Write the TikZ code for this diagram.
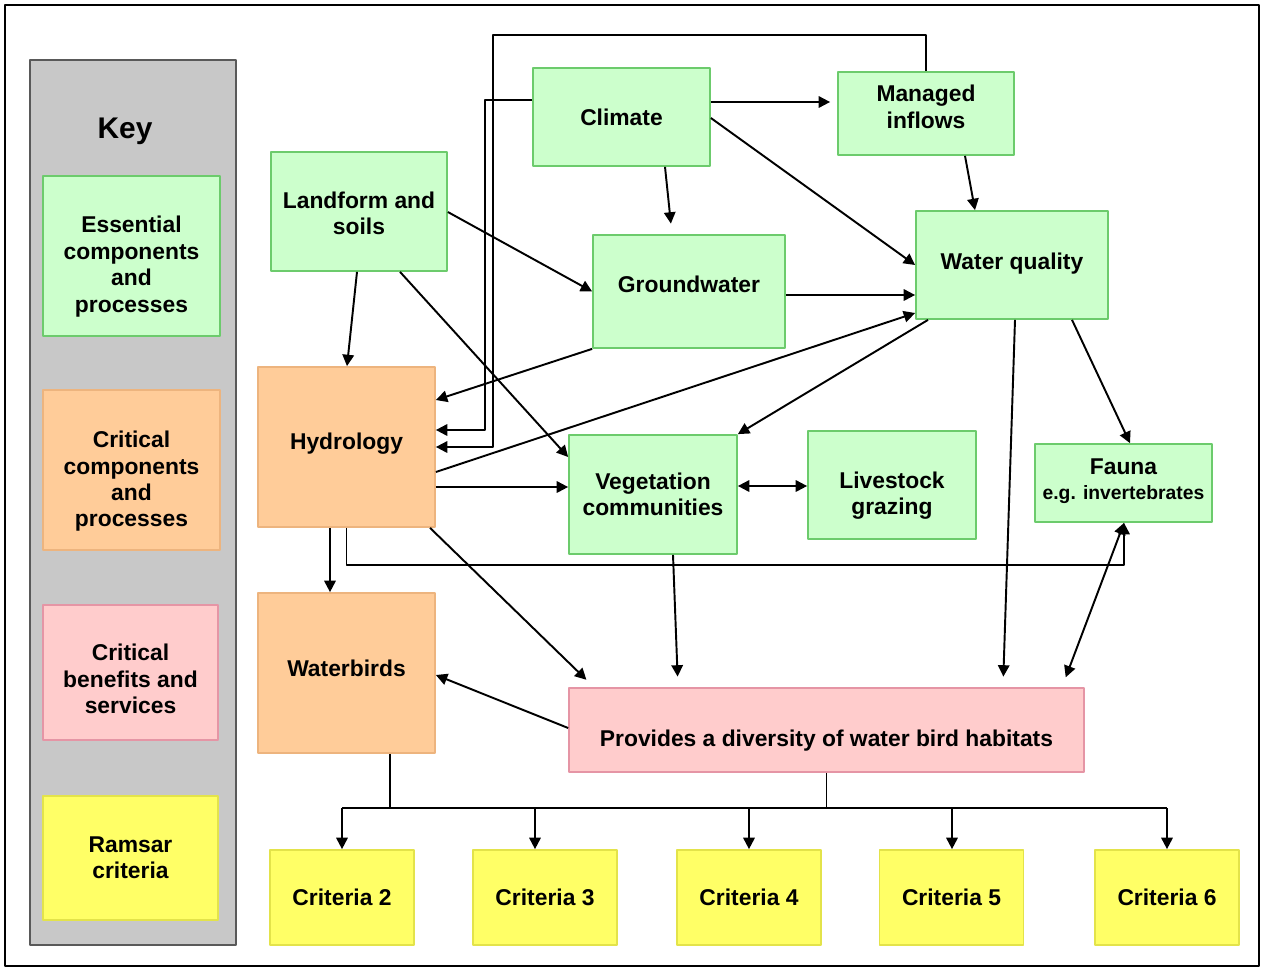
\documentclass[tikz,border=0pt]{standalone}
\usepackage{fontspec}
\setmainfont{Liberation Sans}
\definecolor{essfill}{HTML}{CCFFCC}
\definecolor{essline}{HTML}{6CCB6C}
\definecolor{critfill}{HTML}{FFCC99}
\definecolor{critline}{HTML}{EDB47E}
\definecolor{benfill}{HTML}{FFCCCC}
\definecolor{benline}{HTML}{E595A5}
\definecolor{ramfill}{HTML}{FFFF66}
\definecolor{ramline}{HTML}{E3E34A}
\definecolor{keyfill}{HTML}{C8C8C8}
\usetikzlibrary{arrows.meta}
% struts to move a box text down (first line) or up (last line)
\newcommand{\txtdown}[1]{\rule{0pt}{#1}}
\newcommand{\txtup}[1]{\rule[-#1]{0pt}{0pt}}
\begin{document}
\begin{tikzpicture}[x=0.02cm, y=-0.02cm, line join=round, >={Triangle[length=6.5pt,width=6.5pt]}, line width=1.1pt]
	\tikzset{every node/.style={font=\fontsize{13}{15}\selectfont\bfseries, align=center, inner sep=0pt, line width=1pt},
		ess/.style={fill=essfill, draw=essline},
		crit/.style={fill=critfill, draw=critline},
		ben/.style={fill=benfill, draw=benline},
		ram/.style={fill=ramfill, draw=ramline},
		gap/.style={shorten >=6pt}}
	\useasboundingbox (0,0) rectangle (1264,971);
	\draw[line width=1.3pt] (5,5) rectangle (1259,966);
	% key
	\draw[fill=keyfill, draw=black!65, line width=1.1pt] (30,60) rectangle (236,945);
	\node[font=\fontsize{17}{20}\selectfont\bfseries] (keytitle) at (125,131) {Key};
	\node[ess, minimum width=3.54cm, minimum height=3.2cm] (keyess) at (131.5,256) {\txtdown{21.5pt}Essential\\components\\and\\processes};
	\node[crit, minimum width=3.54cm, minimum height=3.2cm] (keycrit) at (131.5,470) {\txtdown{22.5pt}Critical\\components\\and\\processes};
	\node[ben, minimum width=3.5cm, minimum height=2.7cm] (keyben) at (130.5,672.5) {\txtdown{17pt}Critical\\benefits and\\services};
	\node[ram, minimum width=3.5cm, minimum height=2.48cm] (keyram) at (130.5,858) {Ramsar\\criteria};
	% components
	\node[ess, minimum width=3.52cm, minimum height=2.38cm] (landform) at (359,211.5) {\txtdown{11.5pt}Landform and\\soils};
	\node[ess, minimum width=3.54cm, minimum height=1.96cm] (climate) at (621.5,117) {Climate};
	\node[ess, minimum width=3.52cm, minimum height=1.66cm] (inflows) at (926,113.5) {Managed\\inflows\txtup{7.6pt}};
	\node[ess, minimum width=3.84cm, minimum height=2.26cm] (groundwater) at (689,291.5) {Groundwater\txtup{8.2pt}};
	\node[ess, minimum width=3.84cm, minimum height=2.16cm] (wq) at (1012,265) {Water quality\txtup{4.5pt}};
	\node[crit, minimum width=3.54cm, minimum height=3.2cm] (hydrology) at (346.5,447) {Hydrology\txtup{6.2pt}};
	\node[ess, minimum width=3.36cm, minimum height=2.38cm] (veg) at (653,494.5) {Vegetation\\communities};
	\node[ess, minimum width=3.36cm, minimum height=2.16cm] (livestock) at (892,485) {\txtdown{21.5pt}Livestock\\grazing};
	\node[ess, minimum width=3.54cm, minimum height=1.56cm] (fauna) at (1123.5,483) {Fauna\\[-1pt]{\fontsize{11}{13}\selectfont e.g. invertebrates}\txtup{4.5pt}};
	\node[crit, minimum width=3.54cm, minimum height=3.2cm] (waterbirds) at (346.5,673) {Waterbirds\txtup{5.8pt}};
	\node[ben, minimum width=10.3cm, minimum height=1.68cm] (habitats) at (826.5,730) {\txtdown{20.9pt}Provides a diversity of water bird habitats};
	\foreach \n/\cx in {2/342,3/545,4/749,5/951.5,6/1167}
		\node[ram, minimum width=2.88cm, minimum height=1.9cm] (crit\n) at (\cx,897.5) {Criteria \n};
	% connectors
	\draw[->] (inflows.north) |- (493,35) |- (hydrology.east);
	\draw[->] (climate.west |- 0,100) -| (485,430) -- (hydrology.east |- 0,430);
	\draw[->, shorten >=4pt] (climate.east |- 0,102) -- (inflows.west |- 0,102);
	\draw[->, gap] (665,0 |- climate.south) -- (672,0 |- groundwater.north);
	\draw[->] (climate.east |- 0,118) -- (wq.west);
	\draw[->] (965,0 |- inflows.south) -- (975,0 |- wq.north);
	\draw[->] (landform.east |- 0,212) -- (groundwater.west);
	\draw[->] (357,0 |- landform.south) -- (347,0 |- hydrology.north);
	\draw[->] (400,0 |- landform.south) -- (veg.west |- 0,457);
	\draw[->] (groundwater.south west) -- (hydrology.east |- 0,400);
	\draw[->] (groundwater.east |- 0,295) -- (wq.west |- 0,295);
	\draw[->] (hydrology.east |- 0,472) -- (wq.west |- 0,313);
	\draw[->] (928,0 |- wq.south) -- (veg.north east);
	\draw[->] (hydrology.east |- 0,487) -- (veg.west |- 0,487);
	\draw[<->] (veg.east |- 0,486) -- (livestock.west |- 0,486);
	\draw[->] (1072,0 |- wq.south) -- (1130,0 |- fauna.north);
	\draw[->, gap] (1015,0 |- wq.south) -- (1003,0 |- habitats.north);
	\draw[<->, shorten <=6pt] (1062,0 |- habitats.north) -- (1124,0 |- fauna.south);
	\draw[->] (hydrology.south) |- (1124,565) -- (1124,0 |- fauna.south);
	\draw[->] (330,0 |- hydrology.south) -- (330,0 |- waterbirds.north);
	\draw[->, gap] (430,0 |- hydrology.south) -- (594,0 |- habitats.north);
	\draw[->, gap] (673,0 |- veg.south) -- (678,0 |- habitats.north);
	\draw[->] (habitats.west |- 0,728) -- (waterbirds.east |- 0,675);
	% criteria bus
	\draw (390,0 |- waterbirds.south) -- (390,808);
	\draw (habitats.south) -- (826.5,808);
	\draw (crit2.north |- 0,808) -- (crit6.north |- 0,808);
	\foreach \n/\ax in {2/342,3/535,4/749,5/952,6/1167}
		\draw[->] (\ax,808) -- (\ax,0 |- crit\n.north);
\end{tikzpicture}
\end{document}
